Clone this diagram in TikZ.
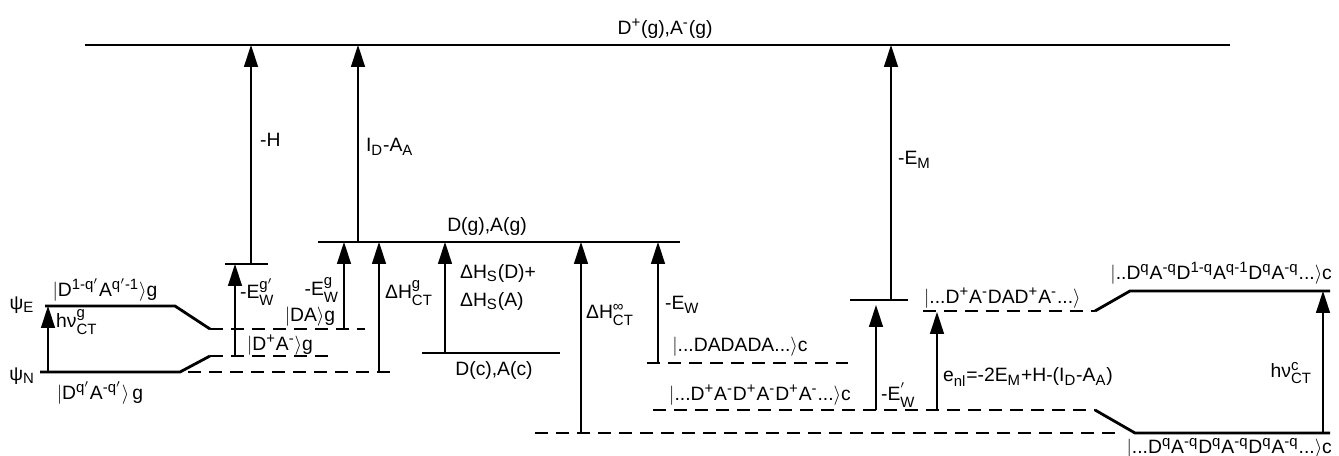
\documentclass[tikz,border=0pt]{standalone}
\usepackage{amsmath}
\usepackage{fontspec}
\setmainfont{Liberation Sans}
\usetikzlibrary{arrows.meta,positioning}
\DeclareMathSizes{11}{11}{8.5}{7}
\newcommand\ud[2]{\ensuremath{^{\text{#1}}_{\text{#2}}}}
\newcommand\up[1]{\ensuremath{^{\text{#1}}}}
\newcommand\dn[1]{\ensuremath{_{\text{#1}}}}
\newcommand\kt{\ensuremath{\rangle}}

\begin{document}
\begin{tikzpicture}[
  x=0.02cm, y=-0.02cm,
  lvl/.style={line width=1.6pt},
  dlvl/.style={line width=1.4pt, dash pattern=on 2.6mm off 1.6mm},
  arr/.style={-{Triangle[length=4.4mm, width=2.8mm]}, line width=0.8pt},
  lbl/.style={font=\fontsize{11}{13}\selectfont, inner sep=1pt}
]
\useasboundingbox (0,0) rectangle (1339,456);

% levels
\draw[lvl] (85,45) -- (1230,45);
\draw[lvl] (318,242) -- (680,242);
\draw[lvl] (422,353) -- (560,353);
\draw[lvl] (45,306) -- (175,306) -- (210,329);
\draw[dlvl] (210,329) -- (365,329);
\draw[lvl] (40,372) -- (180,372) -- (210,356);
\draw[dlvl] (210,356) -- (328,356);
\draw[dlvl] (188,372) -- (390,372);
\draw[lvl] (225,264) -- (268,264);
\draw[dlvl] (647,363) -- (848,363);
\draw[dlvl] (653,410) -- (1095,410);
\draw[lvl] (1095,410) -- (1135,433) -- (1330,433);
\draw[dlvl] (535,433) -- (1120,433);
\draw[lvl] (850,300) -- (908,300);
\draw[dlvl] (923,311) -- (1095,311);
\draw[lvl] (1095,311) -- (1130,291) -- (1330,291);

% transitions
\draw[arr] (48,372) -- (48,306);
\draw[arr] (235,356) -- (235,264);
\draw[arr] (251,264) -- (251,45);
\draw[arr] (344,329) -- (344,242);
\draw[arr] (358,242) -- (358,45);
\draw[arr] (379,372) -- (379,242);
\draw[arr] (445,353) -- (445,242);
\draw[arr] (581,434) -- (581,242);
\draw[arr] (658,363) -- (658,242);
\draw[arr] (876,410) -- (876,305);
\draw[arr] (891,300) -- (891,45);
\draw[arr] (937,410) -- (937,312);
\draw[arr] (1323,433) -- (1323,291);

% labels
\node[lbl] (ion) at (665,29) {D\up{+}(g),A\up{-}(g)};
\node[lbl, anchor=west] (mh) at (258,140) {-H};
\node[lbl, anchor=west] (ida) at (364,147) {I\dn{D}-A\dn{A}};
\node[lbl, anchor=west] (em) at (896,160) {-E\dn{M}};
\node[lbl] (dga) at (487,227) {D(g),A(g)};
\node[lbl] (psie) at (22,305) {ψ\dn{E}};
\node[lbl] (psin) at (22,376) {ψ\dn{N}};
\node[lbl] (exg) at (105,290) {$|$D\up{1-q$'$}A\up{q$'$-1}\kt g};
\node[lbl] (gsg) at (100,393) {$|$D\up{q$'$}A\up{-q$'$}\kt\,g};
\node[lbl, anchor=west] (hvg) at (54,322) {hν\ud{g}{CT}};
\node[lbl, anchor=west] (ewgp) at (238,292) {-E\ud{g$'$}{W}};
\node[lbl, anchor=east] (ewg) at (341,290) {-E\ud{g}{W}};
\node[lbl] (dag) at (310,317) {$|$DA\kt g};
\node[lbl] (dpag) at (280,345) {$|$D\up{+}A\up{-}\kt g};
\node[lbl, anchor=west] (hctg) at (383,293) {ΔH\ud{g}{CT}};
\node[lbl, anchor=west] (hsd) at (458,273) {ΔH\dn{S}(D)+};
\node[lbl, anchor=west] (hsa) at (458,301) {ΔH\dn{S}(A)};
\node[lbl] (dca) at (494,370) {D(c),A(c)};
\node[lbl, anchor=west] (hinf) at (584,315) {ΔH\ud{∞}{CT}};
\node[lbl, anchor=west] (ew) at (663,305) {-E\dn{W}};
\node[lbl] (dadc) at (740,347) {$|$...DADADA...\kt c};
\node[lbl] (dpac) at (760,395) {$|$...D\up{+}A\up{-}D\up{+}A\up{-}D\up{+}A\up{-}...\kt c};
\node[lbl, anchor=west] (ewp) at (879,395) {-E\ud{$'$}{W}};
\node[lbl, anchor=west] (enl) at (941,377) {e\dn{nl}=-2E\dn{M}+H-(I\dn{D}-A\dn{A})};
\node[lbl, anchor=west] (dadp) at (922,298) {$|$...D\up{+}A\up{-}DAD\up{+}A\up{-}...\kt};
\node[lbl, anchor=east] (exc) at (1334,273) {$|$..D\up{q}A\up{-q}D\up{1-q}A\up{q-1}D\up{q}A\up{-q}...\kt c};
\node[lbl, anchor=east] (hvc) at (1314,373) {hν\ud{c}{CT}};
\node[lbl, anchor=east] (gsc) at (1334,448) {$|$...D\up{q}A\up{-q}D\up{q}A\up{-q}D\up{q}A\up{-q}...\kt c};
\end{tikzpicture}
\end{document}
